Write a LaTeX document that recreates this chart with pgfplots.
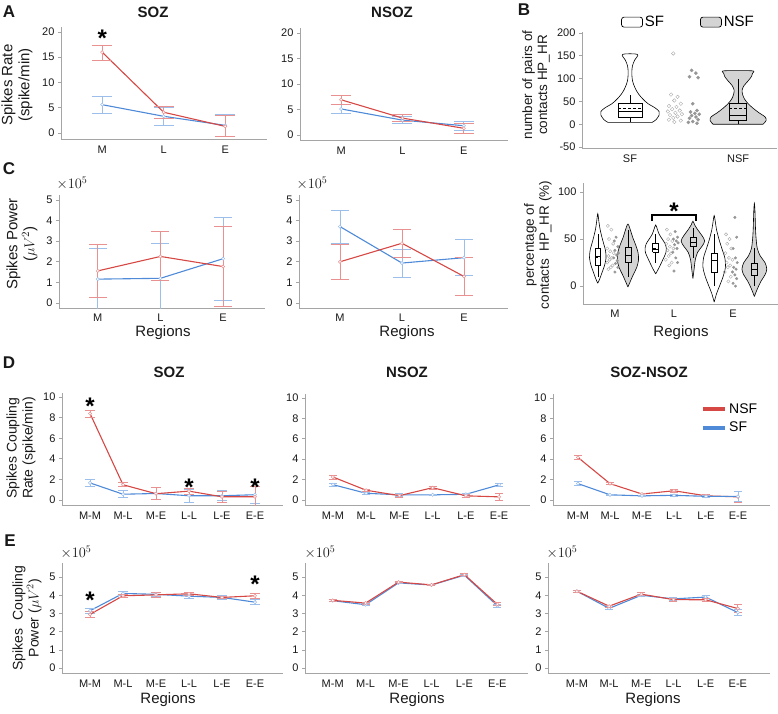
\documentclass[border=0pt]{standalone}
\usepackage{fontspec}
\setmainfont{Liberation Sans}
\usepackage{pgfplots}
\pgfplotsset{compat=1.18}

\definecolor{nsf}{RGB}{214,72,68}
\definecolor{sf}{RGB}{78,138,216}
\definecolor{nsfe}{RGB}{233,145,145}
\definecolor{sfe}{RGB}{155,190,235}
\definecolor{axg}{RGB}{165,165,165}
\definecolor{txt}{RGB}{25,25,25}
\definecolor{vgray}{RGB}{212,212,212}
\definecolor{ptg}{RGB}{150,150,150}

\newcommand{\fs}[1]{\fontsize{#1}{#1}\selectfont}
\tikzset{ast/.style={font=\fs{24}\bfseries, inner sep=0pt}}

\pgfplotsset{
  panel/.style={scale only axis, axis lines*=left,
    axis line style={draw=axg, line width=0.8pt},
    major tick length=3pt, tick align=outside,
    ytick style={draw=axg, line width=0.7pt},
    xtick style={draw=none},
    tick label style={font=\fs{11}, text=txt},
    /pgf/number format/assume math mode=true,
    clip=true},
  three/.style={panel, xtick={0,1,2}, xticklabels={M,L,E}},
  six/.style={panel, xtick={0,1,2,3,4,5}, xticklabels={M-M,M-L,M-E,L-L,L-E,E-E}},
  nsfl/.style={nsf, line width=1.1pt, mark=*, mark size=1.6pt,
    mark options={fill=white, draw=nsfe, line width=0.5pt},
    error bars/.cd, y dir=both, y explicit,
    error bar style={nsfe, line width=0.8pt},
    error mark options={rotate=90, nsfe, line width=0.8pt, mark size=#1}},
  nsfl/.default=10pt,
  sfl/.style={sf, line width=1.1pt, mark=*, mark size=1.6pt,
    mark options={fill=white, draw=sfe, line width=0.5pt},
    error bars/.cd, y dir=both, y explicit,
    error bar style={sfe, line width=0.8pt},
    error mark options={rotate=90, sfe, line width=0.8pt, mark size=#1}},
  sfl/.default=10pt,
  boxl/.style={black, line width=0.5pt, forget plot},
  vio/.style={draw=black, line width=0.6pt, smooth, tension=0.5, forget plot},
}

% xl, xr, xc, lower whisker, q1, median, q3, upper whisker, mean
\newcommand{\bx}[9]{%
\addplot[boxl] coordinates {(#1,#5) (#2,#5) (#2,#7) (#1,#7) (#1,#5)};
\addplot[boxl] coordinates {(#1,#6) (#2,#6)};
\addplot[boxl, densely dashed] coordinates {(#1,#9) (#2,#9)};
\addplot[boxl] coordinates {(#3,#4) (#3,#5)};
\addplot[boxl] coordinates {(#3,#7) (#3,#8)};
}

\begin{document}
\begin{tikzpicture}
\useasboundingbox (0pt,0pt) rectangle (778pt,713pt);

% ================= A SOZ
\begin{axis}[three, at={(61pt,574pt)}, width=206pt, height=112pt,
  xmin=-0.67, xmax=2.68, ymin=-1.2, ymax=21, ytick={0,5,10,15,20}]
\addplot[sfl] coordinates {(0,5.6) +- (0,1.65) (1,3.3) +- (0,1.8) (2,1.5) +- (0,2.25)};
\addplot[nsfl] coordinates {(0,16.0) += (0,1.3) -= (0,1.6) (1,4.1) += (0,1.2) -= (0,1.3) (2,1.3) += (0,2.1) -= (0,2.0)};
\node[ast] at (axis cs:0,18.7) {*};
\end{axis}

% ================= A NSOZ
\begin{axis}[three, at={(300pt,573pt)}, width=208pt, height=112pt,
  xmin=-0.67, xmax=2.72, ymin=-1.0, ymax=21, ytick={0,5,10,15,20}]
\addplot[sfl] coordinates {(0,5.1) +- (0,0.9) (1,2.9) +- (0,0.7) (2,1.8) +- (0,0.9)};
\addplot[nsfl] coordinates {(0,6.9) +- (0,0.9) (1,3.3) +- (0,0.7) (2,1.3) +- (0,1.0)};
\end{axis}

% ================= C SOZ
\begin{axis}[three, at={(59pt,405pt)}, width=206pt, height=113pt,
  xmin=-0.62, xmax=2.67, ymin=-0.24, ymax=5.24, ytick={0,1,2,3,4,5},
  xticklabel style={yshift=1pt}]
\addplot[sfl=9pt] coordinates {(0,1.16) +- (0,1.5) (1,1.2) +- (0,1.7) (2,2.15) += (0,2.02) -= (0,2.04)};
\addplot[nsfl=9pt] coordinates {(0,1.56) +- (0,1.29) (1,2.26) += (0,1.2) -= (0,1.16) (2,1.77) +- (0,1.93)};
\end{axis}

% ================= C NSOZ
\begin{axis}[three, at={(299pt,405pt)}, width=209pt, height=113pt,
  xmin=-0.66, xmax=2.71, ymin=-0.24, ymax=5.24, ytick={0,1,2,3,4,5},
  xticklabel style={yshift=1pt}]
\addplot[sfl=9pt] coordinates {(0,3.71) +- (0,0.8) (1,1.94) +- (0,0.68) (2,2.2) +- (0,0.88)};
\addplot[nsfl=9pt] coordinates {(0,2.0) +- (0,0.84) (1,2.9) +- (0,0.68) (2,1.29) +- (0,0.9)};
\end{axis}

% ================= B top
\begin{axis}[panel, at={(582pt,565pt)}, width=195pt, height=116pt,
  xmin=-0.444, xmax=1.36, ymin=-52, ymax=202,
  xtick={0,1}, xticklabels={SF,NSF},
  ytick={-50,0,50,100,150,200}, yticklabels={-50,0,50,100,150,200},
  legend style={draw=none, fill=none, at={(0.2,1.085)}, anchor=west,
    legend columns=2, font=\fs{15}, inner sep=0pt,
    /tikz/every even column/.append style={column sep=34pt}},
  legend image code/.code={\draw[draw=black, line width=0.7pt, rounded corners=2.5pt, #1] (0pt,-5pt) rectangle (21pt,5pt);}]
\addplot[draw=black, line width=0.6pt, smooth, tension=0.5, fill=white] table[x expr=\thisrow{w}, y=y] {
y w
4 0.204
10 0.241
20 0.269
28 0.269
36 0.231
45 0.167
55 0.12
65 0.083
75 0.056
88 0.032
100 0.02
115 0.017
128 0.023
140 0.042
153 0.069
153 -0.069
140 -0.042
128 -0.023
115 -0.017
100 -0.02
88 -0.032
75 -0.056
65 -0.083
55 -0.12
45 -0.167
36 -0.231
28 -0.269
20 -0.269
10 -0.241
4 -0.204
} -- cycle;
\addlegendentry{SF}
\addplot[draw=black, line width=0.6pt, smooth, tension=0.5, fill=vgray] table[x expr=1+\thisrow{w}, y=y] {
y w
0 0.231
8 0.259
16 0.25
25 0.194
35 0.139
45 0.093
55 0.06
65 0.042
75 0.037
85 0.056
95 0.093
105 0.125
112 0.134
117 0.13
117 -0.13
112 -0.134
105 -0.125
95 -0.093
85 -0.056
75 -0.037
65 -0.042
55 -0.06
45 -0.093
35 -0.139
25 -0.194
16 -0.25
8 -0.259
0 -0.231
} -- cycle;
\addlegendentry{NSF}
\bx{-0.11}{0.11}{0}{5}{15}{28}{45}{65}{36}
\bx{0.92}{1.08}{1}{0}{8}{20}{45}{100}{36}
\addplot[only marks, mark=o, mark size=1.8pt, ptg!80, forget plot] coordinates {
(0.40,155) (0.38,65) (0.44,60) (0.41,52) (0.47,45) (0.36,40) (0.43,38) (0.39,33) (0.46,30)
(0.35,28) (0.42,25) (0.48,22) (0.37,20) (0.44,17) (0.40,14) (0.36,10) (0.47,8) (0.41,5)};
\addplot[only marks, mark=*, mark size=1.6pt, ptg, forget plot] coordinates {
(0.57,118) (0.61,112) (0.55,104) (0.63,102) (0.58,45) (0.62,30) (0.56,27) (0.60,24) (0.64,22)
(0.57,19) (0.61,16) (0.55,13) (0.63,10) (0.58,6) (0.54,4) (0.62,2)};
\end{axis}

% ================= B bottom
\begin{axis}[panel, at={(583pt,409pt)}, width=195pt, height=121pt,
  xmin=-0.54, xmax=2.76, ymin=-19, ymax=109.6,
  xtick={0,1,2}, xticklabels={M,L,E}, ytick={0,50,100},
  xticklabel style={yshift=1pt}]
% M SF
\addplot[vio, fill=white] table[x expr=-0.29+\thisrow{w}, y=y] {
y w
3 0
8 0.035
15 0.075
22 0.115
30 0.14
38 0.13
45 0.10
52 0.07
60 0.04
68 0.02
77 0
68 -0.02
60 -0.04
52 -0.07
45 -0.10
38 -0.13
30 -0.14
22 -0.115
15 -0.075
8 -0.035
3 0
};
% M NSF
\addplot[vio, fill=vgray] table[x expr=0.22+\thisrow{w}, y=y] {
y w
-1 0
5 0.04
12 0.09
20 0.15
28 0.18
36 0.17
44 0.13
52 0.08
58 0.05
66 0
58 -0.05
52 -0.08
44 -0.13
36 -0.17
28 -0.18
20 -0.15
12 -0.09
5 -0.04
-1 0
};
% L SF
\addplot[vio, fill=white] table[x expr=0.69+\thisrow{w}, y=y] {
y w
13 0
20 0.06
28 0.12
35 0.17
40 0.18
45 0.16
50 0.11
55 0.06
60 0.03
65 0
60 -0.03
55 -0.06
50 -0.11
45 -0.16
40 -0.18
35 -0.17
28 -0.12
20 -0.06
13 0
};
% L NSF
\addplot[vio, fill=vgray] table[x expr=1.32+\thisrow{w}, y=y] {
y w
8 0
18 0.02
28 0.04
36 0.08
42 0.15
48 0.2
54 0.15
60 0.08
65 0.03
69 0
65 -0.03
60 -0.08
54 -0.15
48 -0.2
42 -0.15
36 -0.08
28 -0.04
18 -0.02
8 0
};
% E SF
\addplot[vio, fill=white] table[x expr=1.68+\thisrow{w}, y=y] {
y w
-17 0
-8 0.04
0 0.09
10 0.15
20 0.19
30 0.18
40 0.13
50 0.08
60 0.04
68 0.02
75 0
68 -0.02
60 -0.04
50 -0.08
40 -0.13
30 -0.18
20 -0.19
10 -0.15
0 -0.09
-8 -0.04
-17 0
};
% E NSF
\addplot[vio, fill=vgray] table[x expr=2.36+\thisrow{w}, y=y] {
y w
-11 0
-3 0.05
5 0.11
12 0.18
18 0.21
25 0.18
32 0.1
40 0.05
50 0.03
60 0.02
70 0.015
80 0.01
88 0
80 -0.01
70 -0.015
60 -0.02
50 -0.03
40 -0.05
32 -0.1
25 -0.18
18 -0.21
12 -0.18
5 -0.11
-3 -0.05
-11 0
};
\bx{-0.34}{-0.24}{-0.29}{10}{22}{32}{40}{55}{31}
\bx{0.17}{0.27}{0.22}{10}{25}{33}{41}{60}{33}
\bx{0.64}{0.74}{0.69}{25}{36}{39}{46}{55}{40}
\bx{1.27}{1.37}{1.32}{30}{42}{47}{52}{62}{47}
\bx{1.63}{1.73}{1.68}{0}{15}{28}{35}{55}{27}
\bx{2.31}{2.41}{2.36}{0}{12}{18}{24}{40}{18}
\addplot[only marks, mark=o, mark size=1.6pt, ptg!80, forget plot] coordinates {
(-0.12,64) (-0.06,60) (-0.10,50) (-0.03,45) (-0.13,40) (-0.08,37) (-0.02,35) (-0.11,32) (-0.05,30)
(-0.09,28) (-0.13,25) (-0.04,22) (-0.07,20) (-0.11,18)
(0.88,60) (0.94,55) (0.90,50) (0.97,48) (0.87,45) (0.93,42) (0.99,40) (0.89,38) (0.95,35)
(0.91,32) (0.86,28) (0.96,25) (0.92,22)
(1.88,55) (1.94,50) (1.90,45) (1.97,40) (1.87,35) (1.93,30) (1.99,28) (1.89,25) (1.95,22)
(1.91,20) (1.86,15) (1.96,10) (1.92,5)};
\addplot[only marks, mark=*, mark size=1.3pt, ptg, forget plot] coordinates {
(0.02,52) (-0.01,48) (0.05,42) (0.00,38) (0.06,35) (0.03,33) (-0.02,30) (0.04,27) (0.01,24) (0.05,20) (0.00,15)
(1.02,58) (1.06,52) (0.99,50) (1.04,48) (1.07,46) (1.01,44) (1.05,40) (0.98,36) (1.03,30) (1.06,25) (1.00,16)
(2.03,73) (2.06,52) (2.00,40) (2.04,30) (2.07,25) (2.01,20) (2.05,18) (1.99,15) (2.03,12) (2.06,8) (2.00,3) (2.04,0)};
\addplot[black, line width=1.5pt, forget plot] coordinates {(0.63,69) (0.63,75.5) (1.37,75.5) (1.37,69)};
\node[ast] at (axis cs:1,80) {*};
\end{axis}

% ================= D SOZ
\begin{axis}[six, at={(62pt,208pt)}, width=221pt, height=112pt,
  xmin=-0.85, xmax=5.85, ymin=-0.5, ymax=10.4, ytick={0,2,4,6,8,10}]
\addplot[sfl=5pt] coordinates {(0,1.65) +- (0,0.38) (1,0.55) +- (0,0.35) (2,0.62) +- (0,0.62) (3,0.4) +- (0,0.6) (4,0.4) +- (0,0.5) (5,0.5) +- (0,0.8)};
\addplot[nsfl=5pt] coordinates {(0,8.4) +- (0,0.35) (1,1.47) +- (0,0.2) (2,0.6) +- (0,0.6) (3,0.85) +- (0,0.3) (4,0.3) +- (0,0.55) (5,0.3) +- (0,1.0)};
\node[ast] at (axis cs:0,9.1) {*};
\node[ast] at (axis cs:3,1.25) {*};
\node[ast] at (axis cs:5,1.25) {*};
\end{axis}

% ================= D NSOZ
\begin{axis}[six, at={(305pt,208pt)}, width=225pt, height=111pt,
  xmin=-0.84, xmax=5.93, ymin=-0.5, ymax=10.4, ytick={0,2,4,6,8,10}]
\addplot[sfl=4pt] coordinates {(0,1.5) +- (0,0.15) (1,0.65) +- (0,0.1) (2,0.5) +- (0,0.12) (3,0.5) +- (0,0.08) (4,0.55) +- (0,0.1) (5,1.48) +- (0,0.18)};
\addplot[nsfl=4pt] coordinates {(0,2.25) +- (0,0.2) (1,0.95) +- (0,0.12) (2,0.42) +- (0,0.15) (3,1.2) +- (0,0.12) (4,0.4) +- (0,0.15) (5,0.3) +- (0,0.3)};
\end{axis}

% ================= D SOZ-NSOZ
\begin{axis}[six, at={(553pt,208pt)}, width=217pt, height=111pt,
  xmin=-0.78, xmax=6.0, ymin=-0.5, ymax=10.4, ytick={0,2,4,6,8,10},
  legend style={draw=none, fill=none, at={(0.668,0.95)}, anchor=north west, font=\fs{14}, row sep=3pt},
  legend cell align=left,
  legend image code/.code={\draw[#1, line width=4pt] (0pt,0pt) -- (22pt,0pt);}]
\addplot[nsfl=4pt] coordinates {(0,4.17) +- (0,0.2) (1,1.6) +- (0,0.12) (2,0.58) +- (0,0.1) (3,0.9) +- (0,0.15) (4,0.4) +- (0,0.12) (5,0.3) +- (0,0.5)};
\addlegendentry{NSF}
\addplot[sfl=4pt] coordinates {(0,1.6) +- (0,0.22) (1,0.5) +- (0,0.08) (2,0.4) +- (0,0.08) (3,0.45) +- (0,0.12) (4,0.35) +- (0,0.1) (5,0.35) +- (0,0.5)};
\addlegendentry{SF}
\end{axis}

% ================= E SOZ
\begin{axis}[six, at={(62pt,40pt)}, width=221pt, height=110pt,
  xmin=-0.85, xmax=5.85, ymin=-0.27, ymax=5.77, ytick={0,1,2,3,4,5}]
\addplot[sfl=5pt] coordinates {(0,3.15) +- (0,0.15) (1,4.1) +- (0,0.1) (2,4.05) +- (0,0.1) (3,3.95) +- (0,0.12) (4,3.88) +- (0,0.1) (5,3.62) +- (0,0.15)};
\addplot[nsfl=5pt] coordinates {(0,2.95) +- (0,0.15) (1,3.97) +- (0,0.08) (2,4.02) +- (0,0.12) (3,4.08) +- (0,0.1) (4,3.88) +- (0,0.08) (5,3.97) +- (0,0.15)};
\node[ast] at (axis cs:0,3.75) {*};
\node[ast] at (axis cs:5,4.6) {*};
\end{axis}

% ================= E NSOZ
\begin{axis}[six, at={(305pt,40pt)}, width=223pt, height=110pt,
  xmin=-0.84, xmax=5.93, ymin=-0.27, ymax=5.77, ytick={0,1,2,3,4,5}]
\addplot[sfl=4pt] coordinates {(0,3.7) +- (0,0.05) (1,3.48) +- (0,0.06) (2,4.68) +- (0,0.04) (3,4.56) +- (0,0.03) (4,5.1) +- (0,0.05) (5,3.42) +- (0,0.07)};
\addplot[nsfl=4pt] coordinates {(0,3.72) +- (0,0.05) (1,3.57) +- (0,0.06) (2,4.72) +- (0,0.04) (3,4.57) +- (0,0.03) (4,5.13) +- (0,0.06) (5,3.5) +- (0,0.08)};
\end{axis}

% ================= E SOZ-NSOZ
\begin{axis}[six, at={(548pt,40pt)}, width=222pt, height=110pt,
  xmin=-0.9, xmax=6.0, ymin=-0.27, ymax=5.77, ytick={0,1,2,3,4,5}]
\addplot[sfl=4pt] coordinates {(0,4.22) +- (0,0.06) (1,3.28) +- (0,0.06) (2,4.0) +- (0,0.06) (3,3.8) +- (0,0.06) (4,3.9) +- (0,0.1) (5,3.05) +- (0,0.15)};
\addplot[nsfl=4pt] coordinates {(0,4.22) +- (0,0.07) (1,3.4) +- (0,0.06) (2,4.06) +- (0,0.08) (3,3.76) +- (0,0.08) (4,3.75) +- (0,0.08) (5,3.27) +- (0,0.2)};
\end{axis}

% ================= text
\begin{scope}[every node/.style={text=txt}]
\node[font=\fs{17}\bfseries] at (9pt,701pt) {A};
\node[font=\fs{17}\bfseries] at (524pt,703pt) {B};
\node[font=\fs{17}\bfseries] at (9pt,544pt) {C};
\node[font=\fs{17}\bfseries] at (9pt,350pt) {D};
\node[font=\fs{17}\bfseries] at (10pt,172pt) {E};

\node[font=\fs{15}\bfseries] at (153pt,701pt) {SOZ};
\node[font=\fs{15}\bfseries] at (392pt,701pt) {NSOZ};
\node[font=\fs{15}\bfseries] at (169pt,341pt) {SOZ};
\node[font=\fs{15}\bfseries] at (407pt,341pt) {NSOZ};
\node[font=\fs{15}\bfseries] at (649pt,341pt) {SOZ-NSOZ};

\node[font=\fs{14}] at (72pt,530pt) {$\times 10^5$};
\node[font=\fs{14}] at (312pt,530pt) {$\times 10^5$};
\node[font=\fs{14}] at (76pt,161pt) {$\times 10^5$};
\node[font=\fs{14}] at (320pt,161pt) {$\times 10^5$};
\node[font=\fs{14}] at (562pt,161pt) {$\times 10^5$};

\node[font=\fs{15}] at (163pt,380pt) {Regions};
\node[font=\fs{15}] at (407pt,380pt) {Regions};
\node[font=\fs{15}] at (681pt,380pt) {Regions};
\node[font=\fs{15}] at (168pt,13pt) {Regions};
\node[font=\fs{15}] at (417pt,13pt) {Regions};
\node[font=\fs{15}] at (653pt,13pt) {Regions};

\node[font=\fontsize{15}{17}\selectfont, rotate=90, align=center] at (17pt,628pt) {Spikes Rate\\(spike/min)};
\node[font=\fontsize{15}{17}\selectfont, rotate=90, align=center] at (22pt,469pt) {Spikes Power\\($\mu V^2$)};
\node[font=\fontsize{14}{16}\selectfont, rotate=90, align=center] at (21pt,265pt) {Spikes Coupling\\Rate (spike/min)};
\node[font=\fontsize{14}{16}\selectfont, rotate=90, align=center] at (27pt,95pt) {Spikes~~Coupling\\Power ($\mu V^2$)};
\node[font=\fontsize{13.5}{15}\selectfont, rotate=90, align=center] at (536pt,628pt) {number of pairs of\\contacts HP\_HR};
\node[font=\fontsize{13.5}{15}\selectfont, rotate=90, align=center] at (538pt,468pt) {percentage of\\contacts~~HP\_HR (\%)};
\end{scope}
\end{tikzpicture}
\end{document}
